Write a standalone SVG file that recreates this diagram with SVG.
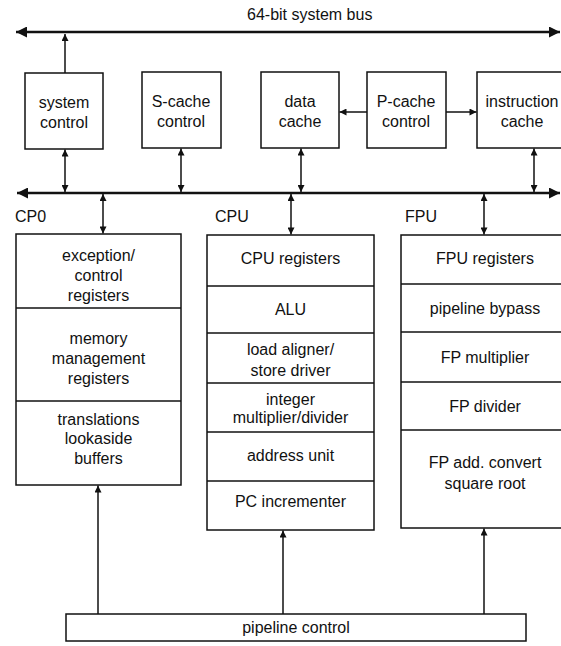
<svg xmlns="http://www.w3.org/2000/svg" width="561" height="646" viewBox="0 0 561 646">
<style>
  .box { fill: #fff; stroke: #111; stroke-width: 1.5; }
  .div { stroke: #111; stroke-width: 1.3; }
  .t { font-family: "Liberation Sans", Arial, sans-serif; font-size: 16px; fill: #111; text-anchor: middle; }
  .l { font-family: "Liberation Sans", Arial, sans-serif; font-size: 16px; fill: #111; }
  .c { stroke: #111; stroke-width: 1.5; fill: none; }
  .bus { stroke: #111; stroke-width: 2.6; fill: none; }
</style>
<defs>
  <marker id="ah" viewBox="0 0 10 10" refX="10" refY="5" markerWidth="8" markerHeight="7" markerUnits="userSpaceOnUse" orient="auto-start-reverse">
    <path d="M0,0 L10,5 L0,10 z" fill="#111"/>
  </marker>
  <marker id="bh" viewBox="0 0 10 10" refX="10" refY="5" markerWidth="15" markerHeight="11" markerUnits="userSpaceOnUse" orient="auto-start-reverse">
    <path d="M0,0 L10,5 L0,10 z" fill="#111"/>
  </marker>
</defs>

<text class="l" x="247" y="20">64-bit system bus</text>

<g id="system-control">
  <rect class="box" x="25" y="73" width="78" height="76"/>
  <text class="t" x="64" y="108">system</text>
  <text class="t" x="64" y="128">control</text>
</g>
<g id="s-cache-control">
  <rect class="box" x="142" y="72" width="79" height="76"/>
  <text class="t" x="181" y="107">S-cache</text>
  <text class="t" x="181" y="127">control</text>
</g>
<g id="data-cache">
  <rect class="box" x="261" y="72" width="78" height="76"/>
  <text class="t" x="300" y="107">data</text>
  <text class="t" x="300" y="127">cache</text>
</g>
<g id="p-cache-control">
  <rect class="box" x="367" y="72" width="79" height="76"/>
  <text class="t" x="406" y="107">P-cache</text>
  <text class="t" x="406" y="127">control</text>
</g>
<g id="instruction-cache">
  <rect class="box" x="477" y="72" width="95" height="76"/>
  <text class="t" x="522" y="107">instruction</text>
  <text class="t" x="522" y="127">cache</text>
</g>

<g id="cp0">
  <text class="l" x="15" y="222">CP0</text>
  <rect class="box" x="16" y="234" width="165" height="251"/>
  <line class="div" x1="16" y1="308" x2="181" y2="308"/>
  <line class="div" x1="16" y1="401" x2="181" y2="401"/>
  <text class="t" x="98.5" y="261">exception/</text>
  <text class="t" x="98.5" y="281">control</text>
  <text class="t" x="98.5" y="301">registers</text>
  <text class="t" x="98.5" y="344">memory</text>
  <text class="t" x="98.5" y="364">management</text>
  <text class="t" x="98.5" y="384">registers</text>
  <text class="t" x="98.5" y="425">translations</text>
  <text class="t" x="98.5" y="444">lookaside</text>
  <text class="t" x="98.5" y="464">buffers</text>
</g>

<g id="cpu">
  <text class="l" x="215" y="222">CPU</text>
  <rect class="box" x="207" y="235" width="167" height="295"/>
  <line class="div" x1="207" y1="286" x2="374" y2="286"/>
  <line class="div" x1="207" y1="333" x2="374" y2="333"/>
  <line class="div" x1="207" y1="383" x2="374" y2="383"/>
  <line class="div" x1="207" y1="432" x2="374" y2="432"/>
  <line class="div" x1="207" y1="481" x2="374" y2="481"/>
  <text class="t" x="290.5" y="264">CPU registers</text>
  <text class="t" x="290.5" y="315">ALU</text>
  <text class="t" x="290.5" y="355">load aligner/</text>
  <text class="t" x="290.5" y="376">store driver</text>
  <text class="t" x="290.5" y="405">integer</text>
  <text class="t" x="290.5" y="423">multiplier/divider</text>
  <text class="t" x="290.5" y="461">address unit</text>
  <text class="t" x="290.5" y="507">PC incrementer</text>
</g>

<g id="fpu">
  <text class="l" x="405" y="222">FPU</text>
  <rect class="box" x="401" y="235" width="175" height="293"/>
  <line class="div" x1="401" y1="284" x2="576" y2="284"/>
  <line class="div" x1="401" y1="332" x2="576" y2="332"/>
  <line class="div" x1="401" y1="382" x2="576" y2="382"/>
  <line class="div" x1="401" y1="430" x2="576" y2="430"/>
  <text class="t" x="485" y="264">FPU registers</text>
  <text class="t" x="485" y="314">pipeline bypass</text>
  <text class="t" x="485" y="363">FP multiplier</text>
  <text class="t" x="485" y="412">FP divider</text>
  <text class="t" x="485" y="468">FP add. convert</text>
  <text class="t" x="485" y="489">square root</text>
</g>

<g id="pipeline-control">
  <rect class="box" x="66" y="614" width="460" height="27"/>
  <text class="t" x="296" y="633">pipeline control</text>
</g>

<g id="connectors">
  <line class="bus" x1="16" y1="32" x2="560" y2="32" marker-start="url(#bh)" marker-end="url(#bh)"/>
  <line class="bus" x1="17" y1="193" x2="560" y2="193" marker-start="url(#bh)" marker-end="url(#bh)"/>
  <line class="c" x1="65" y1="73" x2="65" y2="34" marker-end="url(#ah)"/>
  <line class="c" x1="65" y1="149.5" x2="65" y2="192" marker-start="url(#ah)" marker-end="url(#ah)"/>
  <line class="c" x1="181" y1="148.5" x2="181" y2="192" marker-start="url(#ah)" marker-end="url(#ah)"/>
  <line class="c" x1="301" y1="148.5" x2="301" y2="192" marker-start="url(#ah)" marker-end="url(#ah)"/>
  <line class="c" x1="534" y1="148.5" x2="534" y2="192" marker-start="url(#ah)" marker-end="url(#ah)"/>
  <line class="c" x1="367" y1="112" x2="339.5" y2="112" marker-end="url(#ah)"/>
  <line class="c" x1="446" y1="112" x2="476.5" y2="112" marker-end="url(#ah)"/>
  <line class="c" x1="103" y1="194" x2="103" y2="233.5" marker-start="url(#ah)" marker-end="url(#ah)"/>
  <line class="c" x1="291" y1="194" x2="291" y2="234.5" marker-start="url(#ah)" marker-end="url(#ah)"/>
  <line class="c" x1="484" y1="194" x2="484" y2="234.5" marker-start="url(#ah)" marker-end="url(#ah)"/>
  <line class="c" x1="98" y1="614" x2="98" y2="485.5" marker-end="url(#ah)"/>
  <line class="c" x1="283" y1="614" x2="283" y2="530.5" marker-end="url(#ah)"/>
  <line class="c" x1="484" y1="614" x2="484" y2="528.5" marker-end="url(#ah)"/>
</g>
</svg>
